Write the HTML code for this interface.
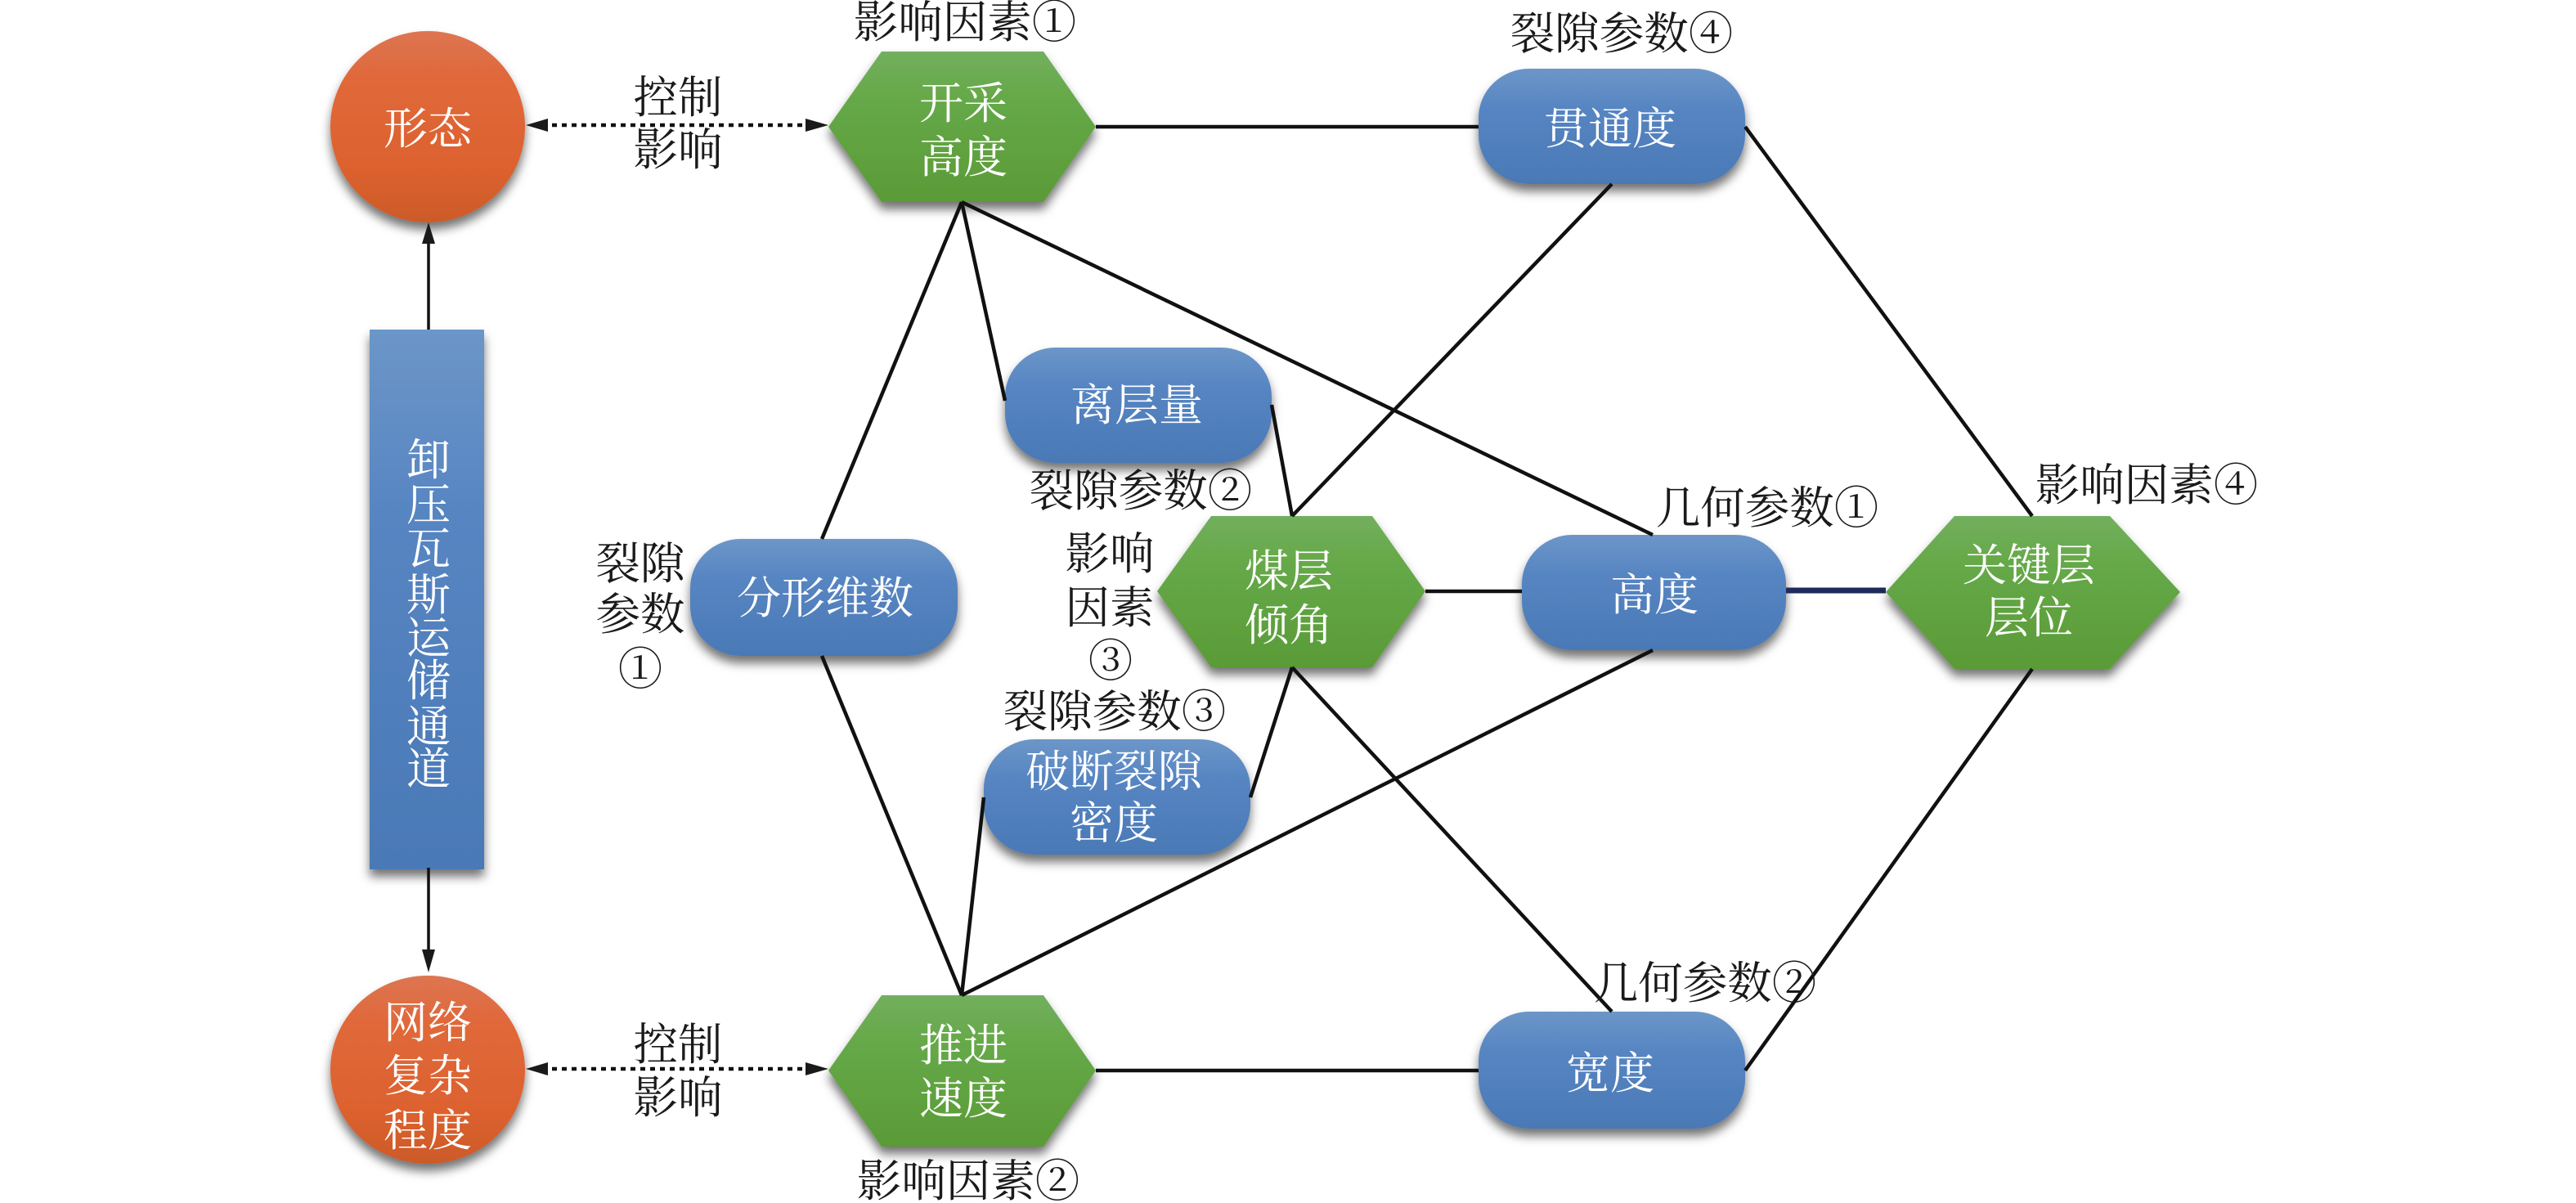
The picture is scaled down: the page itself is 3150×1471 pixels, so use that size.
<!DOCTYPE html>
<html><head><meta charset="utf-8"><style>
html,body{margin:0;padding:0;background:#fff;width:3150px;height:1471px;overflow:hidden}
svg{display:block}
text{font-family:"Liberation Serif","Noto Serif CJK SC",serif;font-size:54px;text-anchor:middle}
.w text{fill:#fff}.k text{fill:#1a1a1a;font-size:54.5px}
</style></head><body>
<svg width="3150" height="1471" viewBox="0 0 3150 1471" xmlns="http://www.w3.org/2000/svg">
<defs>
<linearGradient id="o" x1="0" y1="0" x2="0" y2="1"><stop offset="0" stop-color="#dd7552"/><stop offset=".25" stop-color="#e0683a"/><stop offset=".7" stop-color="#dd622f"/><stop offset="1" stop-color="#cc5a28"/></linearGradient>
<linearGradient id="g" x1="0" y1="0" x2="0" y2="1"><stop offset="0" stop-color="#72af5e"/><stop offset=".3" stop-color="#66a949"/><stop offset="1" stop-color="#5a9b37"/></linearGradient>
<linearGradient id="b" x1="0" y1="0" x2="0" y2="1"><stop offset="0" stop-color="#6c96c8"/><stop offset=".35" stop-color="#5685c2"/><stop offset="1" stop-color="#4a79b6"/></linearGradient>
<filter id="s" x="-15%" y="-15%" width="130%" height="135%"><feDropShadow dx="0" dy="9" stdDeviation="6" flood-color="#000" flood-opacity=".55"/></filter>
</defs>
<g filter="url(#s)">
<ellipse cx="523" cy="155" rx="119" ry="117" fill="url(#o)"/>
<ellipse cx="523" cy="1308" rx="119" ry="115" fill="url(#o)"/>
<rect x="452" y="403" width="140" height="660" fill="url(#b)"/>
<polygon points="1013,155 1078,63 1276,63 1340,155 1276,247 1078,247" fill="url(#g)"/>
<polygon points="1013,1309 1078,1217 1276,1217 1340,1309 1276,1402 1078,1402" fill="url(#g)"/>
<polygon points="1415,723 1481,631 1678,631 1743,723 1678,816 1481,816" fill="url(#g)"/>
<polygon points="2306,724 2390,631 2580,631 2666,724 2580,818 2390,818" fill="url(#g)"/>
<rect x="1808" y="84" width="326" height="141" rx="62" ry="60" fill="url(#b)"/>
<rect x="1229" y="425" width="326" height="141" rx="62" ry="60" fill="url(#b)"/>
<rect x="844" y="659" width="327" height="143" rx="62" ry="60" fill="url(#b)"/>
<rect x="1861" y="654" width="323" height="141" rx="62" ry="60" fill="url(#b)"/>
<rect x="1203" y="904" width="326" height="141" rx="62" ry="60" fill="url(#b)"/>
<rect x="1808" y="1237" width="326" height="143" rx="62" ry="60" fill="url(#b)"/>
</g>
<g stroke="#111" stroke-width="4.5" fill="none">
<line x1="1340" y1="155" x2="1808" y2="155"/>
<line x1="1176" y1="247" x2="1005" y2="659"/>
<line x1="1176" y1="247" x2="1229" y2="490"/>
<line x1="1176" y1="247" x2="2021" y2="654"/>
<line x1="1971" y1="225" x2="1580" y2="631"/>
<line x1="2134" y1="155" x2="2485" y2="631"/>
<line x1="1555" y1="495" x2="1580" y2="631"/>
<line x1="1743" y1="723" x2="1861" y2="723"/>
<line x1="1580" y1="816" x2="1529" y2="975"/>
<line x1="1580" y1="816" x2="1971" y2="1237"/>
<line x1="2021" y1="795" x2="1176" y2="1217"/>
<line x1="1203" y1="975" x2="1176" y2="1217"/>
<line x1="1005" y1="802" x2="1176" y2="1217"/>
<line x1="1340" y1="1309" x2="1808" y2="1309"/>
<line x1="2134" y1="1309" x2="2485" y2="818"/>
<line x1="2184" y1="722" x2="2306" y2="722" stroke="#1f2a5c" stroke-width="7"/>
<line x1="524" y1="403" x2="524" y2="295" stroke-width="3.5"/>
<line x1="524" y1="1061" x2="524" y2="1165" stroke-width="3.5"/>
<line x1="675" y1="153" x2="985" y2="153" stroke-width="4.5" stroke-dasharray="6 6"/>
<line x1="675" y1="1307" x2="985" y2="1307" stroke-width="4.5" stroke-dasharray="6 6"/>
</g>
<g fill="#1a1a1a">
<polygon points="524,272 516,298 532,298"/>
<polygon points="524,1189 516,1161 532,1161"/>
<polygon points="643,153 670,145 670,161"/>
<polygon points="1013,153 985,145 985,161"/>
<polygon points="643,1307 670,1299 670,1315"/>
<polygon points="1013,1307 985,1299 985,1315"/>
</g>
<g class="w">
<text x="523" y="176">形态</text>
<text x="523" y="1269">网络</text><text x="523" y="1334">复杂</text><text x="523" y="1401">程度</text>
<text x="524" y="581">卸</text><text x="524" y="636">压</text><text x="524" y="690">瓦</text><text x="524" y="746">斯</text><text x="524" y="799">运</text><text x="524" y="851">储</text><text x="524" y="907">通</text><text x="524" y="959">道</text>
<text x="1178" y="145">开采</text><text x="1178" y="211">高度</text>
<text x="1178" y="1297">推进</text><text x="1178" y="1362">速度</text>
<text x="1969" y="176">贯通度</text>
<text x="1390" y="514">离层量</text>
<text x="1009" y="750">分形维数</text>
<text x="1576" y="717">煤层</text><text x="1576" y="783">倾角</text>
<text x="2023" y="746">高度</text>
<text x="2481" y="710">关键层</text><text x="2481" y="774">层位</text>
<text x="1362" y="962">破断裂隙</text><text x="1362" y="1025">密度</text>
<text x="1969" y="1331">宽度</text>
</g>
<g class="k">
<text x="1180" y="46">影响因素①</text>
<text x="829" y="138">控制</text><text x="829" y="202">影响</text>
<text x="829" y="1296">控制</text><text x="829" y="1361">影响</text>
<text x="1184" y="1463">影响因素②</text>
<text x="1983" y="60">裂隙参数④</text>
<text x="1395" y="619">裂隙参数②</text>
<text x="1363" y="889">裂隙参数③</text>
<text x="1357" y="696">影响</text><text x="1357" y="762">因素</text><text x="1358" y="827">③</text>
<text x="2161" y="640">几何参数①</text>
<text x="2625" y="612">影响因素④</text>
<text x="2085" y="1221">几何参数②</text>
<text x="783" y="708">裂隙</text><text x="783" y="770">参数</text><text x="783" y="837">①</text>
</g>
</svg>
</body></html>
